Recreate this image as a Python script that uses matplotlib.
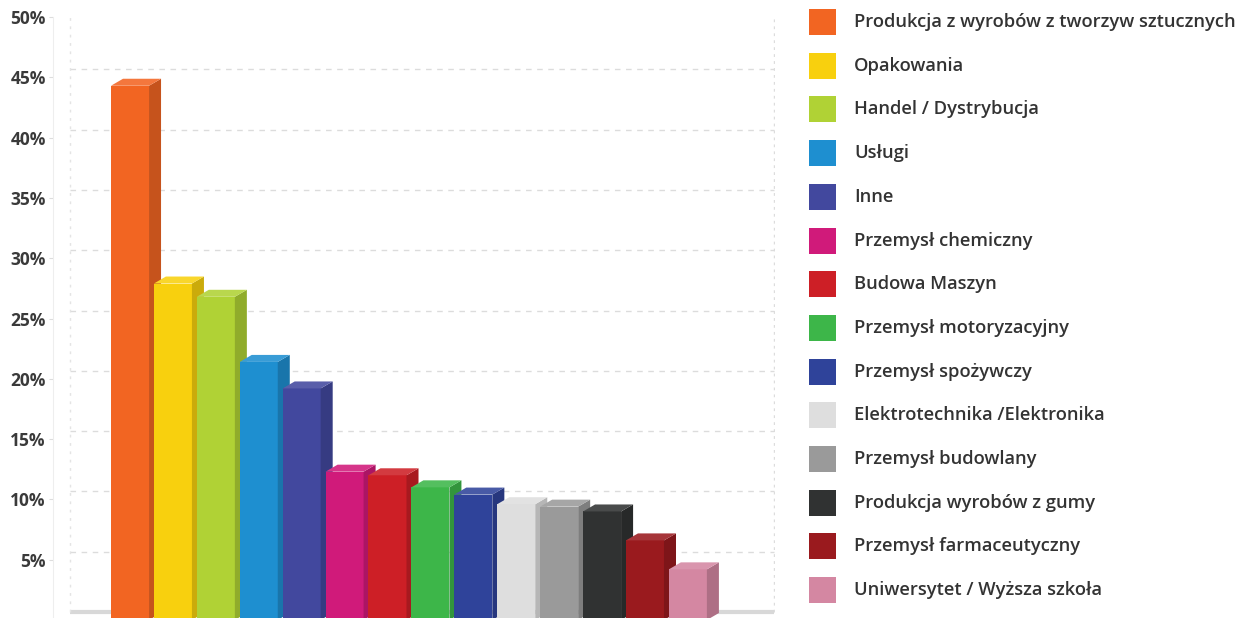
import matplotlib.pyplot as plt
import matplotlib.colors as mcolors
import matplotlib.transforms as mtransforms
from matplotlib.patches import Polygon, Rectangle

Branze = ["Produkcja z wyrobów z tworzyw sztucznych", "Opakowania", "Handel / Dystrybucja",
          "Usługi", "Inne", "Przemysł chemiczny", "Budowa Maszyn", "Przemysł motoryzacyjny",
          "Przemysł spożywczy", "Elektrotechnika /Elektronika", "Przemysł budowlany",
          "Produkcja wyrobów z gumy", "Przemysł farmaceutyczny", "Uniwersytet / Wyższa szkoła"]
Udzial = [44.3, 27.9, 26.8, 21.4, 19.2, 12.3, 12.0, 11.0, 10.4, 9.6, 9.4, 9.0, 6.6, 4.2]
Kolory = ["#F26522", "#F8D00E", "#B0D235", "#1E8FD0", "#42489E", "#D01A7A", "#CD1F26",
          "#3DB649", "#2F439A", "#DEDEDE", "#9A9A9A", "#303232", "#9A1A1E", "#D487A2"]
Ticks = [5, 10, 15, 20, 25, 30, 35, 40, 45, 50]
Tick_Labels = ["5%", "10%", "15%", "20%", "25%", "30%", "35%", "40%", "45%", "50%"]

def shade(c, f):
    r, g, b = mcolors.to_rgb(c)
    return (r*f, g*f, b*f)

def lighten(c, f):
    r, g, b = mcolors.to_rgb(c)
    return (r+(1-r)*f, g+(1-g)*f, b+(1-b)*f)

W, H = 1254, 618
fig = plt.figure(figsize=(W/100, H/100), dpi=100)
ax = fig.add_axes([68/W, (H-620)/H, (775-68)/W, (620-17)/H])
ax.set_xlim(-1.445, 15.03)
ax.set_ylim(0, 50)

# 3D depth
dx = 0.28
dy = 0.58
bw = 0.886
back = ax.transData + mtransforms.ScaledTranslation(0, 8/100, fig.dpi_scale_trans)

# back wall grid
for t in Ticks:
    ax.plot([-1.4, 15.0], [t, t], color="#dcdcdc", lw=1, ls=(0, (4, 4)), transform=back, zorder=1)
ax.plot([-1.4, 15.0], [0, 0], color="#d8d8d8", lw=3, transform=back, zorder=1, solid_capstyle="butt")
ax.plot([-1.4, -1.4], [0, 50], color="#e4e4e4", lw=1, ls=(0, (2, 4)), transform=back, zorder=1)
ax.plot([15.0, 15.0], [0, 50], color="#dcdcdc", lw=1, ls=(0, (2, 3)), transform=back, zorder=1)

# bars
for i in range(len(Udzial)):
    v = Udzial[i]
    c = Kolory[i]
    x0 = i - bw/2
    x1 = i + bw/2
    ax.bar(i, v, width=bw, color=c, zorder=3, linewidth=0)
    side = Polygon([[x1, 0], [x1+dx, dy], [x1+dx, v+dy], [x1, v]], closed=True,
                   facecolor=shade(c, 0.82), edgecolor="none", zorder=3)
    top = Polygon([[x0, v], [x0+dx, v+dy], [x1+dx, v+dy], [x1, v]], closed=True,
                  facecolor=lighten(c, 0.12), edgecolor="none", zorder=3)
    ax.add_patch(side)
    ax.add_patch(top)

for s in ["top", "right", "bottom"]:
    ax.spines[s].set_visible(False)
ax.spines["left"].set_position(("outward", 11))
ax.spines["left"].set_color("#eeeeee")
ax.set_xticks([])
ax.set_yticks(Ticks)
ax.set_yticklabels(Tick_Labels, fontfamily="Open Sans", fontweight="bold", fontsize=12.5, color="#3a3a3a")
ax.tick_params(axis="y", length=3, color="#dddddd", pad=2)

# legend
for i in range(len(Branze)):
    yc = 22 + i*43.7
    fig.patches.append(Rectangle(((809)/W, (H-yc-13)/H), 27/W, 26/H, transform=fig.transFigure,
                                 facecolor=Kolory[i], edgecolor="none", figure=fig))
    fig.text(854/W, (H-yc)/H, Branze[i], fontfamily="Open Sans", fontweight="semibold",
             fontsize=13.2, color="#333333", va="center", ha="left")

plt.savefig("out.png", dpi=100)
